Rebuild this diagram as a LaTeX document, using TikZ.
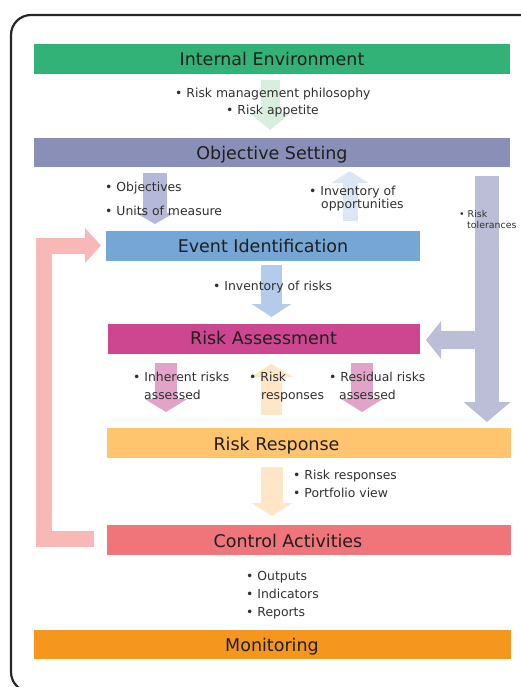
\documentclass[tikz,border=0pt]{standalone}
\usepackage{fontspec}
\setmainfont{DejaVu Sans}
\usetikzlibrary{arrows.meta}
\definecolor{frameC}{HTML}{262626}
\definecolor{titleC}{HTML}{1F1F1F}
\definecolor{bulC}{HTML}{303030}
\definecolor{ieC}{HTML}{33B277}
\definecolor{osC}{HTML}{8A8FB8}
\definecolor{eiC}{HTML}{75A6D5}
\definecolor{raC}{HTML}{CD4790}
\definecolor{rrC}{HTML}{FFC46E}
\definecolor{caC}{HTML}{EF757B}
\definecolor{moC}{HTML}{F5961F}
\definecolor{agreen}{HTML}{D8EFDF}
\definecolor{alav}{HTML}{B5B8D8}
\definecolor{atol}{HTML}{BCBED8}
\definecolor{aup}{HTML}{DCE7F6}
\definecolor{ablue}{HTML}{B4CBEA}
\definecolor{apink}{HTML}{E1A3C8}
\definecolor{apeach}{HTML}{FFE6C6}
\definecolor{afeed}{HTML}{F8B8B6}
\begin{document}
\begin{tikzpicture}[x=1pt,y=-1pt,
  barnode/.style={minimum height=30pt, inner sep=0pt, outer sep=0pt, draw=none},
  titlenode/.style={anchor=base, inner sep=0pt, text=titleC, font=\fontsize{17.5}{20}\selectfont},
  bul/.style={anchor=base west, inner sep=0pt, text=bulC, font=\fontsize{12.4}{16}\selectfont},
  smallbul/.style={anchor=base west, inner sep=0pt, text=bulC, font=\fontsize{9.4}{11}\selectfont},
  blk/.style={line cap=butt, line join=miter}
]
\useasboundingbox (0,0) rectangle (520,687);
% frame
\draw[line width=2.2pt, draw=frameC, rounded corners=20pt] (11,15) rectangle (560,692);

% bars
\node[barnode, fill=ieC, minimum width=476pt] (ie) at (272,59) {};
\node[barnode, fill=osC, minimum width=476pt, minimum height=29pt] (os) at (272,152.5) {};
\node[barnode, fill=eiC, minimum width=314pt] (ei) at (263,246) {};
\node[barnode, fill=raC, minimum width=312pt] (ra) at (264,339) {};
\node[barnode, fill=rrC, minimum width=404pt] (rr) at (309,443) {};
\node[barnode, fill=caC, minimum width=404pt] (ca) at (309,540) {};
\node[barnode, fill=moC, minimum width=477pt, minimum height=29pt] (mo) at (272.5,644.5) {};

% titles
\node[titlenode] (ieT) at (272,66) {Internal Environment};
\node[titlenode] (osT) at (272,160) {Objective Setting};
\node[titlenode] (eiT) at (263,252) {Event Identification};
\node[titlenode] (raT) at (263.5,344) {Risk Assessment};
\node[titlenode] (rrT) at (276.5,450) {Risk Response};
\node[titlenode] (caT) at (288,547) {Control Activities};
\node[titlenode] (moT) at (272,651) {Monitoring};

% arrow end points
\coordinate (g1) at (270,80);   \coordinate (g2) at (270,130);
\coordinate (o1) at (155,173);  \coordinate (o2) at (155,224);
\coordinate (u1) at (350,221);  \coordinate (u2) at (350,171);
\coordinate (t1) at (487,176);  \coordinate (t2) at (487,422);
\coordinate (b1) at (487,340);  \coordinate (b2) at (426,340);
\coordinate (e1) at (271.5,265);\coordinate (e2) at (271.5,317);
\coordinate (p1) at (166,363);  \coordinate (p2) at (166,412);
\coordinate (m1) at (271.5,415);\coordinate (m2) at (271.5,364);
\coordinate (q1) at (362,363);  \coordinate (q2) at (362,412);
\coordinate (r1) at (272,467);  \coordinate (r2) at (272,516);
\coordinate (f1) at (94,538.5); \coordinate (f2) at (43.5,538.5);
\coordinate (f3) at (43.5,245.5); \coordinate (f4) at (101,245.5);

% block arrows
\draw[blk, agreen, line width=19pt, -{Triangle[length=17pt,width=40pt]}] (g1) -- (g2);
\draw[blk, alav, line width=24pt, -{Triangle[length=11pt,width=38pt]}] (o1) -- (o2);
\draw[blk, aup, line width=15pt, -{Triangle[length=12pt,width=37pt]}] (u1) -- (u2);
\draw[blk, atol, line width=24pt, -{Triangle[length=20pt,width=46pt]}] (t1) -- (t2);
\draw[blk, atol, line width=18pt, -{Triangle[length=15pt,width=37pt]}] (b1) -- (b2);
\draw[blk, ablue, line width=21pt, -{Triangle[length=13pt,width=39pt]}] (e1) -- (e2);
\draw[blk, apink, line width=22pt, -{Triangle[length=13pt,width=42pt]}] (p1) -- (p2);
\draw[blk, apeach, line width=21pt, -{Triangle[length=13pt,width=42pt]}] (m1) -- (m2);
\draw[blk, apink, line width=22pt, -{Triangle[length=13pt,width=41pt]}] (q1) -- (q2);
\draw[blk, apeach, line width=22pt, -{Triangle[length=13pt,width=40pt]}] (r1) -- (r2);
\draw[blk, afeed, line width=16pt, -{Triangle[length=16pt,width=34pt]}] (f1) -- (f2) -- (f3) -- (f4);

% bullet texts
\node[bul] (t01) at (175,97.5) {• Risk management philosophy};
\node[bul] (t02) at (226,115) {• Risk appetite};
\node[bul] (t03) at (105,191) {• Objectives};
\node[bul] (t04) at (105,215) {• Units of measure};
\node[bul] (t05) at (309,195) {• Inventory of};
\node[bul] (t06) at (321,208.5) {opportunities};
\node[smallbul] (t07) at (459,217) {• Risk};
\node[smallbul] (t08) at (467,228) {tolerances};
\node[bul] (t09) at (213,290) {• Inventory of risks};
\node[bul] (t10) at (133,381) {• Inherent risks};
\node[bul] (t11) at (144,399) {assessed};
\node[bul] (t12) at (249,381) {• Risk};
\node[bul] (t13) at (261,399) {responses};
\node[bul] (t14) at (329,381) {• Residual risks};
\node[bul] (t15) at (339,399) {assessed};
\node[bul] (t16) at (293,479) {• Risk responses};
\node[bul] (t17) at (293,497) {• Portfolio view};
\node[bul] (t18) at (246,580) {• Outputs};
\node[bul] (t19) at (246,598) {• Indicators};
\node[bul] (t20) at (246,616) {• Reports};
\end{tikzpicture}
\end{document}
